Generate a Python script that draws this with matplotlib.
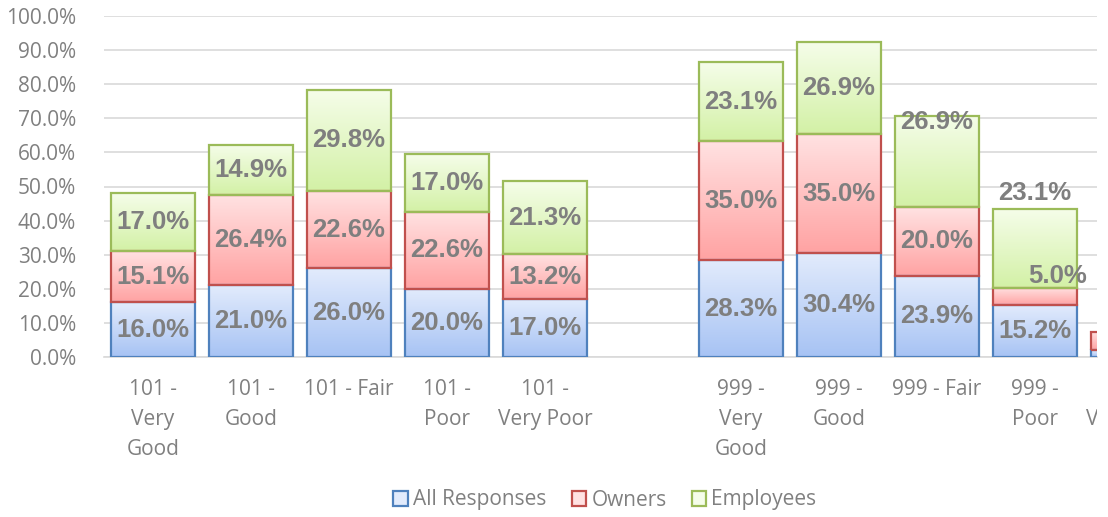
import numpy as np
import matplotlib
matplotlib.use("Agg")
import matplotlib.pyplot as plt
from matplotlib.patches import Patch
from matplotlib.colors import to_rgb
from matplotlib.transforms import Bbox, TransformedBbox

# ---------------- data ----------------
categories = ["101 -\nVery\nGood", "101 -\nGood", "101 - Fair", "101 -\nPoor", "101 -\nVery Poor",
              "",
              "999 -\nVery\nGood", "999 -\nGood", "999 - Fair", "999 -\nPoor", "999 -\nVery Poor"]
all_responses = [16.0, 21.0, 26.0, 20.0, 17.0, 0, 28.3, 30.4, 23.9, 15.2, 2.0]
owners        = [15.1, 26.4, 22.6, 22.6, 13.2, 0, 35.0, 35.0, 20.0, 5.0, 5.3]
employees     = [17.0, 14.9, 29.8, 17.0, 21.3, 0, 23.1, 26.9, 26.9, 23.1, 0]
series_names = ["All Responses", "Owners", "Employees"]
y_ticks = list(range(0, 101, 10))

# ---------------- style ----------------
W, H = 1108, 517
fig = plt.figure(figsize=(W / 100, H / 100), dpi=100)
ax_left, ax_right = 104 / W, 1097 / W
ax_bottom, ax_top = (H - 357) / H, (H - 16) / H
ax = fig.add_axes([ax_left, ax_bottom, ax_right - ax_left, ax_top - ax_bottom])

edge_cols = ["#4f81bd", "#c0504d", "#9bbb59"]
top_cols = ["#e2ebfc", "#ffe2e2", "#f5fde9"]
bot_cols = ["#a7c3f4", "#ffa3a3", "#d3f1a6"]
text_gray = "#7f7f7f"
axis_gray = "#808080"
grid_gray = "#d9d9d9"

tick_font = "Open Sans"
label_font = "Liberation Sans"
tick_size = 15
tick_linespacing = 1.55
x_pad = 16

x = np.arange(len(categories))
width = 0.86
slot_px = 98.0
xlim = (-0.5, -0.5 + (1097 - 104) / slot_px)

series = [all_responses, owners, employees]
bottoms = np.zeros(len(categories))


def gradient_img(c_top, c_bot, n=64):
    t = np.linspace(0, 1, n)[:, None]
    a = np.array(to_rgb(c_bot)); b = np.array(to_rgb(c_top))
    arr = a[None, :] * (1 - t) + b[None, :] * t
    return arr[:, None, :]

# label position overrides (category index, series index) -> (dx in data units, y in data units)
label_override = {
    (8, 2): (0.0, 69.0),
    (9, 1): (0.23, 23.7),
    (9, 2): (0.0, 48.0),
}

for si, vals in enumerate(series):
    vals = np.array(vals, dtype=float)
    bars = ax.bar(x, vals, width, bottom=bottoms, facecolor="none",
                  edgecolor=edge_cols[si], linewidth=1.6, zorder=3)
    img = gradient_img(top_cols[si], bot_cols[si])
    for i, (rect, v) in enumerate(zip(bars, vals)):
        if v <= 0:
            rect.set_visible(False)
            continue
        x0 = rect.get_x(); y0 = rect.get_y()
        im = ax.imshow(img, extent=[x0, x0 + width, y0, y0 + v], origin="lower",
                       aspect="auto", zorder=2, interpolation="bilinear")
        im.set_clip_path(rect.get_path(), rect.get_transform())
        if i == 10:
            continue
        dx, yl = label_override.get((i, si), (0.0, y0 + v / 2))
        ax.text(x[i] + dx, yl, f"{v:.1f}%", ha="center", va="center",
                fontsize=18.5, fontweight="bold", color=text_gray,
                family=label_font, zorder=5, clip_on=True)
    bottoms += vals

# axes styling
ax.set_yticks(y_ticks)
ax.set_yticklabels([f"{t:.1f}%" for t in y_ticks], family=tick_font, fontsize=tick_size, color=axis_gray)
ax.set_xticks(x)
ax.set_xticklabels(categories, family=tick_font, fontsize=tick_size, color=axis_gray,
                   linespacing=tick_linespacing)
ax.set_autoscale_on(False)
ax.set_xlim(*xlim)
ax.set_ylim(0, 100)
ax.tick_params(axis="y", length=0, pad=20)
ax.tick_params(axis="x", length=0, pad=x_pad)
ax.grid(axis="y", color=grid_gray, linewidth=1.2, zorder=0)
ax.set_axisbelow(True)
for s in ["top", "right", "left"]:
    ax.spines[s].set_visible(False)
ax.spines["bottom"].set_color(grid_gray)
ax.spines["bottom"].set_linewidth(1.2)

# category labels whose tick lies beyond the visible area (partially shown, clipped)
clip_box = TransformedBbox(Bbox([[0, 0], [1097 / W, 1]]), fig.transFigure)
for i, cat in enumerate(categories):
    if x[i] > xlim[1]:
        t = ax.annotate(cat, xy=(x[i], 0), xycoords=("data", "axes fraction"),
                        xytext=(0, -x_pad), textcoords="offset points",
                        ha="center", va="top", family=tick_font, fontsize=tick_size,
                        color=axis_gray, linespacing=tick_linespacing,
                        annotation_clip=False, multialignment="center")
        t.set_clip_box(clip_box)
        t.set_clip_on(True)

handles = [Patch(facecolor=top_cols[i], edgecolor=edge_cols[i], linewidth=1.6) for i in range(3)]
fig.legend(handles, series_names, loc="center", bbox_to_anchor=(605 / W, 1 - 500 / H),
           ncol=3, frameon=False, handlelength=0.7, handleheight=0.7, handletextpad=0.25,
           columnspacing=1.2, prop={"family": tick_font, "size": 15},
           labelcolor=axis_gray)

fig.savefig("out.png", dpi=100)
